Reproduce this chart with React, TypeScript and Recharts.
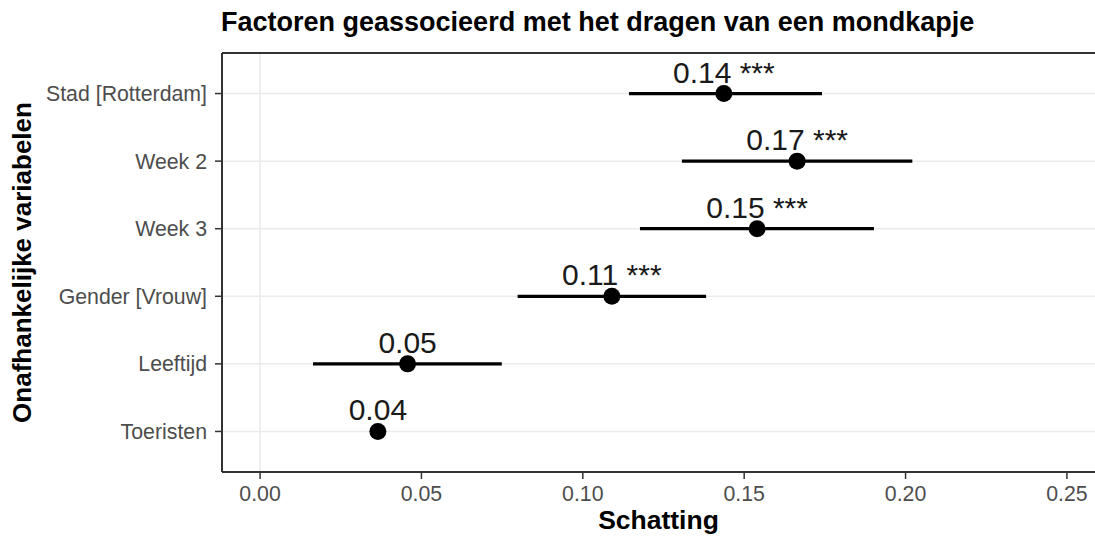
import {
  CartesianGrid,
  ErrorBar,
  ReferenceLine,
  Scatter,
  ScatterChart,
  XAxis,
  YAxis,
} from "recharts";

const categories = [
  "Stad [Rotterdam]",
  "Week 2",
  "Week 3",
  "Gender [Vrouw]",
  "Leeftijd",
  "Toeristen",
];
const estimates = [0.1437, 0.1664, 0.154, 0.109, 0.0457, 0.0365];
const lowerCI = [0.1143, 0.1307, 0.1177, 0.0798, 0.0164, 0.035];
const upperCI = [0.1741, 0.2021, 0.1902, 0.1382, 0.0749, 0.038];
const valueLabels = ["0.14 ***", "0.17 ***", "0.15 ***", "0.11 ***", "0.05", "0.04"];
const xTicks = [0, 0.05, 0.1, 0.15, 0.2, 0.25];

const FONT = '"Liberation Sans", Arial, Helvetica, sans-serif';
const AXIS_DARK = "#333333";
const GRID = "#ebebeb";

const n = categories.length;
const rows = categories.map((name, i) => ({
  name,
  est: estimates[i],
  pos: n - 1 - i,
  err: [estimates[i] - lowerCI[i], upperCI[i] - estimates[i]],
  label: valueLabels[i],
}));

function PointWithLabel(props: any) {
  const { cx, cy, payload } = props;
  if (cx == null || cy == null) return null;
  return (
    <g>
      <circle cx={cx} cy={cy} r={8.5} fill="#000" />
      <text
        x={cx}
        y={cy - 11}
        textAnchor="middle"
        fontSize={30}
        fontFamily={FONT}
        fill="#1a1a1a"
      >
        {payload.label}
      </text>
    </g>
  );
}

export default function App() {
  return (
    <div
      style={{
        position: "fixed",
        left: 0,
        top: 0,
        width: 1095,
        height: 540,
        background: "#fff",
        fontFamily: FONT,
      }}
    >
      <svg
        width={1095}
        height={50}
        style={{ position: "absolute", left: 0, top: 0, pointerEvents: "none" }}
      >
        <text x={221} y={31} fontSize={27} fontWeight="bold" fontFamily={FONT} fill="#000">
          Factoren geassocieerd met het dragen van een mondkapje
        </text>
      </svg>
      <ScatterChart
        width={1095}
        height={540}
        margin={{ top: 53, right: 0, bottom: 0, left: 0 }}
      >
        <CartesianGrid vertical={false} stroke={GRID} strokeWidth={1.5} />
        <ReferenceLine x={0} stroke={GRID} strokeWidth={1.5} />
        <ReferenceLine y={n - 0.4} stroke={AXIS_DARK} strokeWidth={2} ifOverflow="visible" />
        <XAxis
          type="number"
          dataKey="est"
          domain={[-0.0118, 0.2587]}
          allowDataOverflow
          ticks={xTicks}
          tickFormatter={(v: number) => v.toFixed(2)}
          height={68}
          tickSize={7}
          tickMargin={7}
          axisLine={{ stroke: AXIS_DARK, strokeWidth: 2 }}
          tickLine={{ stroke: AXIS_DARK, strokeWidth: 1.5 }}
          tick={{ fill: "#4d4d4d", fontSize: 21.3, fontFamily: FONT }}
          label={{
            value: "Schatting",
            position: "insideBottom",
            offset: 11,
            style: { fontSize: 26.5, fontWeight: "bold", fill: "#000", fontFamily: FONT },
          }}
        />
        <YAxis
          type="number"
          dataKey="pos"
          domain={[-0.6, n - 0.4]}
          allowDataOverflow
          ticks={categories.map((_, i) => i)}
          tickFormatter={(v: number) => categories[n - 1 - v]}
          width={222}
          tickSize={7}
          tickMargin={8}
          axisLine={{ stroke: AXIS_DARK, strokeWidth: 2 }}
          tickLine={{ stroke: AXIS_DARK, strokeWidth: 1.5 }}
          tick={{ fill: "#4d4d4d", fontSize: 21.3, fontFamily: FONT }}
          label={{
            value: "Onafhankelijke variabelen",
            angle: -90,
            position: "insideLeft",
            offset: 22,
            style: {
              fontSize: 26,
              fontWeight: "bold",
              fill: "#000",
              fontFamily: FONT,
              textAnchor: "middle",
            },
          }}
        />
        <Scatter data={rows} shape={PointWithLabel} isAnimationActive={false}>
          <ErrorBar
            dataKey="err"
            direction="x"
            width={0}
            stroke="#000"
            strokeWidth={3.2}
            isAnimationActive={false}
          />
        </Scatter>
      </ScatterChart>
    </div>
  );
}
